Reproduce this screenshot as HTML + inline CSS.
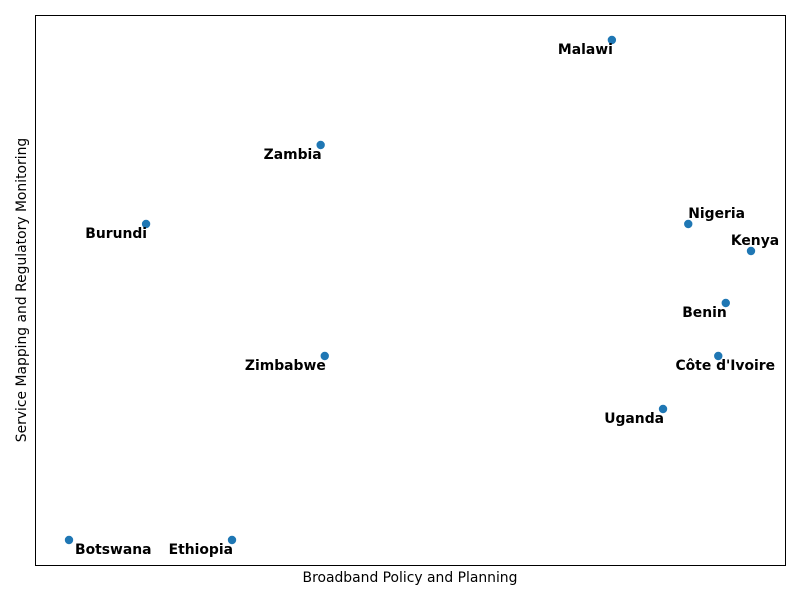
<!DOCTYPE html>
<html><head><meta charset="utf-8"><style>
body{margin:0;background:#fff;}
svg{display:block;font-family:"DejaVu Sans","Liberation Sans",sans-serif;}
</style></head><body>
<svg id="chart" width="800" height="600">
<rect x="35.5" y="15.5" width="750" height="550" fill="none" stroke="#000" stroke-width="1"/>
<text x="410" y="582" text-anchor="middle" font-size="13.9">Broadband Policy and Planning</text>
<text transform="translate(26,290) rotate(-90)" text-anchor="middle" font-size="13.9">Service Mapping and Regulatory Monitoring</text>
<g id="marks"></g>
</svg>
<script>
const countries = ["Malawi","Zambia","Burundi","Nigeria","Kenya","Benin","Zimbabwe","Côte d'Ivoire","Uganda","Botswana","Ethiopia"];
const policyScores = [79.6,36.9,11.3,90.8,100,96.3,37.5,95.2,87.1,0,23.9];
const mappingScores = [100,79,63.2,63.2,57.8,47.4,36.8,36.8,26.2,0,0];
const labelPlacement = ["left","left","left","above-start","above-mid","left","left","below-mid","left","right","left"];
function xScale(v){return 69 + v*6.82;}
function yScale(v){return 540 - v*5;}
const g = document.getElementById('marks');
const ns = "http://www.w3.org/2000/svg";
countries.forEach((c,i)=>{
  const cx = xScale(policyScores[i]), cy = yScale(mappingScores[i]);
  const pt = document.createElementNS(ns,'circle');
  pt.setAttribute('cx',cx); pt.setAttribute('cy',cy); pt.setAttribute('r',4.2);
  pt.setAttribute('fill','#1f77b4');
  
  
  g.appendChild(pt);
  const t = document.createElementNS(ns,'text');
  let tx = cx+1, ty = cy+14, anchor='end';
  const p = labelPlacement[i];
  if(p==='above-start'){tx=cx; ty=cy-6; anchor='start';}
  else if(p==='above-mid'){tx=cx+4; ty=cy-6; anchor='middle';}
  else if(p==='below-mid'){tx=cx+7; ty=cy+14; anchor='middle';}
  else if(p==='right'){tx=cx+6; ty=cy+14; anchor='start';}
  t.setAttribute('x',tx); t.setAttribute('y',ty); t.setAttribute('text-anchor',anchor);
  t.setAttribute('font-size','13.9'); t.setAttribute('font-weight','bold');
  t.textContent = c;
  
  
  g.appendChild(t);
});
</script>
</body></html>
